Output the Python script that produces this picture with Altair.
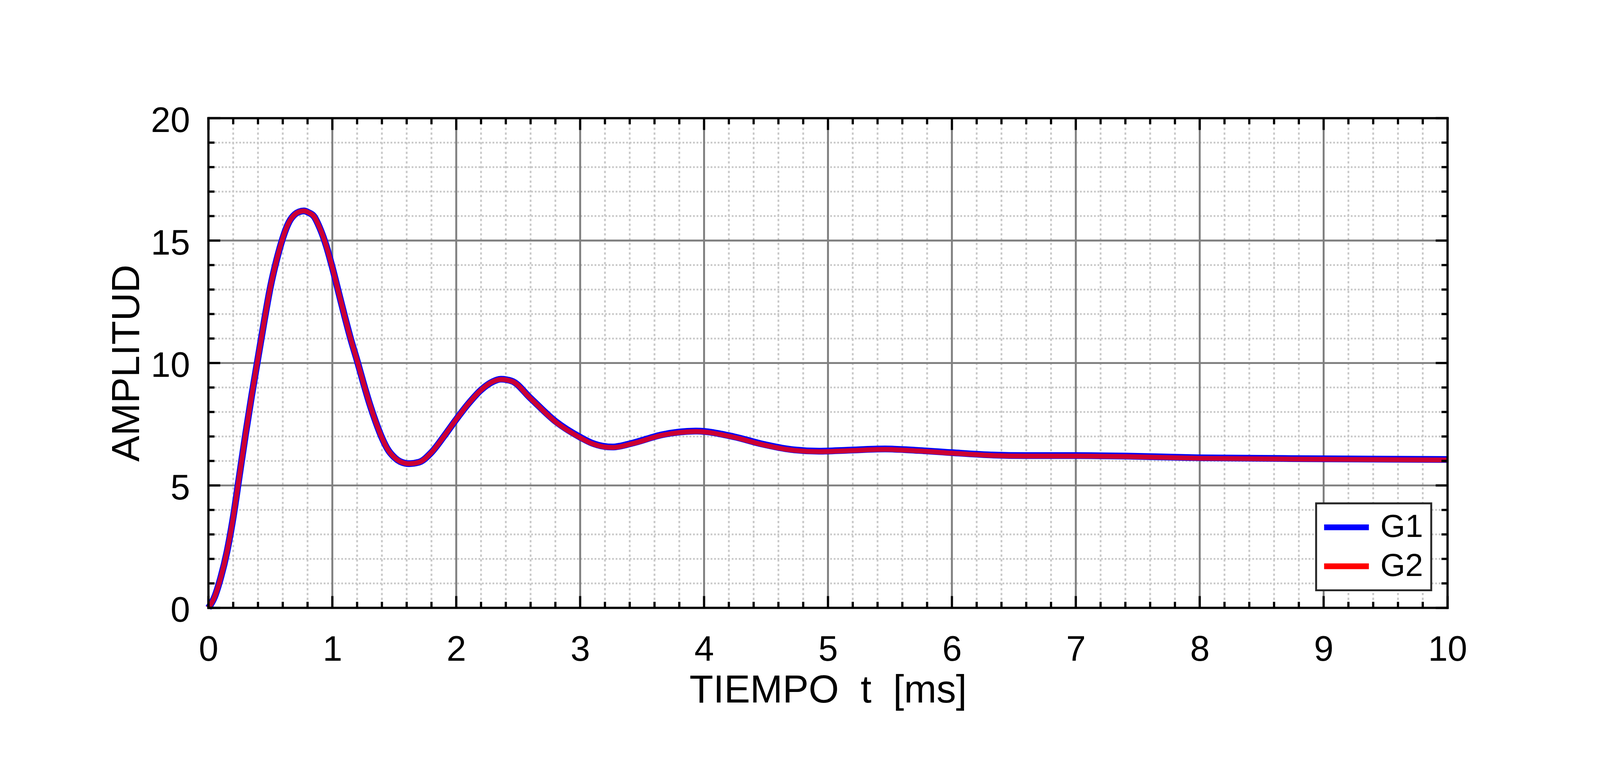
import altair as alt
import pandas as pd

FONT = "Liberation Sans"

# ---- data ----
T = [0, 0.05, 0.1, 0.15, 0.2, 0.25, 0.3, 0.35, 0.4, 0.45,
     0.5, 0.55, 0.6, 0.65, 0.7, 0.73, 0.77, 0.81, 0.85, 0.9, 0.95, 1.0,
     1.05, 1.1, 1.15, 1.2, 1.25, 1.3, 1.35, 1.4, 1.45, 1.5,
     1.55, 1.62, 1.7, 1.8, 1.9, 2.0, 2.1, 2.2, 2.3, 2.36,
     2.45, 2.6, 2.8, 3.0, 3.1, 3.26, 3.43, 3.66, 3.94, 4.24,
     4.47, 4.7, 4.93, 5.16, 5.46, 5.73, 6.0, 6.3, 6.6, 7.0,
     7.4, 8.0, 9.0, 10.0]
G2 = [0, 0.45, 1.25, 2.3, 3.7, 5.4, 7.1, 8.7, 10.2, 11.7,
      13.1, 14.2, 15.1, 15.75, 16.08, 16.17, 16.21, 16.14, 16.0, 15.5, 14.8, 13.9,
      12.9, 11.9, 10.95, 10.1, 9.2, 8.35, 7.6, 6.95, 6.45, 6.15,
      5.97, 5.89, 5.95, 6.35, 7.0, 7.7, 8.35, 8.9, 9.25, 9.33,
      9.25, 8.55, 7.6, 6.95, 6.7, 6.55, 6.72, 7.05, 7.2, 6.97,
      6.67, 6.45, 6.38, 6.42, 6.47, 6.41, 6.32, 6.23, 6.2, 6.2,
      6.18, 6.11, 6.07, 6.04]
G1 = [0, 0.45, 1.25, 2.3, 3.7, 5.4, 7.1, 8.7, 10.2, 11.7,
      13.1, 14.2, 15.1, 15.75, 16.08, 16.17, 16.21, 16.14, 16.0, 15.5, 14.8, 13.9,
      12.9, 11.9, 10.95, 10.1, 9.2, 8.35, 7.6, 6.95, 6.45, 6.15,
      5.97, 5.89, 5.95, 6.35, 7.0, 7.7, 8.35, 8.9, 9.25, 9.34,
      9.26, 8.56, 7.62, 6.97, 6.72, 6.57, 6.74, 7.07, 7.22, 6.99,
      6.69, 6.47, 6.40, 6.44, 6.49, 6.43, 6.34, 6.25, 6.22, 6.22,
      6.20, 6.13, 6.09, 6.06]
SERIES = ["G1", "G2"]
COLORS = ["#0000ff", "#ff0000"]

X_MAJOR = [0, 1, 2, 3, 4, 5, 6, 7, 8, 9, 10]
Y_MAJOR = [0, 5, 10, 15, 20]
X_MINOR = [round(i * 0.2, 1) for i in range(51) if i % 5]
Y_MINOR = [i for i in range(21) if i % 5]
X_GRID = X_MAJOR[1:-1]
Y_GRID = Y_MAJOR[1:-1]

X_TITLE = "TIEMPO\u00a0 t\u00a0 [ms]"
Y_TITLE = "AMPLITUD"

W, H = 3875, 1532

df1 = pd.DataFrame({"t": T, "amp": G1, "serie": "G1"})
df2 = pd.DataFrame({"t": T, "amp": G2, "serie": "G2"})

xs = alt.Scale(domain=[0, 10], nice=False, zero=False)
ys = alt.Scale(domain=[0, 20], nice=False, zero=False)

# identical axis definitions on every layer so that Vega-Lite merges them cleanly
XAX = alt.Axis(values=X_MAJOR, title=X_TITLE,
               labelFontSize=110, titleFontSize=122,
               labelPadding=165, labelBaseline="alphabetic",
               labelFlush=False, labelOverlap=False,
               titleX=W / 2, titleY=295, titleBaseline="alphabetic", titleAlign="center",
               ticks=False, tickSize=0, domain=False, grid=False)
YAX = alt.Axis(values=Y_MAJOR, title=Y_TITLE,
               labelFontSize=110, titleFontSize=122,
               labelPadding=58, labelBaseline="alphabetic", labelOffset=43,
               labelFlush=False, labelOverlap=False,
               titleX=-217, titleY=H / 2, titleBaseline="alphabetic", titleAlign="center",
               titleAngle=270,
               ticks=False, tickSize=0, domain=False, grid=False)


def X(f):
    return alt.X(f, scale=xs, axis=XAX, title=X_TITLE)


def Y(f):
    return alt.Y(f, scale=ys, axis=YAX, title=Y_TITLE)


def rules(vals, **kw):
    return alt.Chart(pd.DataFrame({"v": vals})).mark_rule(**kw)


minor_v = rules(X_MINOR, color="#c8c8c8", strokeWidth=5.5, strokeDash=[7, 8]).encode(x=X("v:Q"))
minor_h = rules(Y_MINOR, color="#c8c8c8", strokeWidth=5.5, strokeDash=[5.5, 5.5]).encode(y=Y("v:Q"))
major_v = rules(X_GRID, color="#7f7f7f", strokeWidth=6).encode(x=X("v:Q"))
major_h = rules(Y_GRID, color="#7f7f7f", strokeWidth=6).encode(y=Y("v:Q"))

LEG = alt.Legend(title=None, orient="none", legendX=3464, legendY=1205,
                 symbolType="M-3.5,0H3.5", symbolSize=1600,
                 symbolOffset=20, symbolStrokeWidth=18, symbolOpacity=1,
                 labelOffset=56, labelFontSize=100, labelFont=FONT,
                 labelColor="black",
                 rowPadding=22, padding=25,
                 strokeColor="#262626", fillColor="white")
CS = alt.Scale(domain=SERIES, range=COLORS)

line_g1 = alt.Chart(df1).mark_line(interpolate="monotone", strokeWidth=21,
                                   strokeCap="butt", strokeJoin="round").encode(
    x=X("t:Q"), y=Y("amp:Q"), color=alt.Color("serie:N", scale=CS, legend=LEG))
line_g2 = alt.Chart(df2).mark_line(interpolate="monotone", strokeWidth=15, opacity=0.8,
                                   strokeCap="butt", strokeJoin="round").encode(
    x=X("t:Q"), y=Y("amp:Q"), color=alt.Color("serie:N", scale=CS, legend=LEG))

TK = dict(color="black", strokeWidth=7)
MAJ, MIN = 37, 19
ticks = [
    rules(X_MAJOR, **TK).encode(x=X("v:Q"), y=alt.value(H), y2=alt.value(H - MAJ)),
    rules(X_MINOR, **TK).encode(x=X("v:Q"), y=alt.value(H), y2=alt.value(H - MIN)),
    rules(X_MAJOR, **TK).encode(x=X("v:Q"), y=alt.value(0), y2=alt.value(MAJ)),
    rules(X_MINOR, **TK).encode(x=X("v:Q"), y=alt.value(0), y2=alt.value(MIN)),
    rules(Y_MAJOR, **TK).encode(y=Y("v:Q"), x=alt.value(0), x2=alt.value(MAJ)),
    rules(Y_MINOR, **TK).encode(y=Y("v:Q"), x=alt.value(0), x2=alt.value(MIN)),
    rules(Y_MAJOR, **TK).encode(y=Y("v:Q"), x=alt.value(W), x2=alt.value(W - MAJ)),
    rules(Y_MINOR, **TK).encode(y=Y("v:Q"), x=alt.value(W), x2=alt.value(W - MIN)),
]

FR = dict(color="black", strokeWidth=7, strokeCap="square")
frame = [
    alt.Chart().mark_rule(**FR).encode(x=alt.value(0), y=alt.value(0), y2=alt.value(H)),
    alt.Chart().mark_rule(**FR).encode(x=alt.value(W), y=alt.value(0), y2=alt.value(H)),
    alt.Chart().mark_rule(**FR).encode(y=alt.value(0), x=alt.value(0), x2=alt.value(W)),
    alt.Chart().mark_rule(**FR).encode(y=alt.value(H), x=alt.value(0), x2=alt.value(W)),
]

chart = alt.layer(minor_v, minor_h, major_v, major_h, line_g1, line_g2, *ticks, *frame).properties(
    width=W, height=H,
    autosize=alt.AutoSizeParams(type="none"),
    padding={"left": 642, "top": 140, "right": 467, "bottom": 312},
    background="white",
).configure_view(stroke=None).configure_axis(
    labelFont=FONT, titleFont=FONT, labelColor="black", titleColor="black",
    titleFontWeight="normal",
).configure_legend(strokeWidth=6)

chart.save("out.html", embed_options={"renderer": "svg", "actions": False})
